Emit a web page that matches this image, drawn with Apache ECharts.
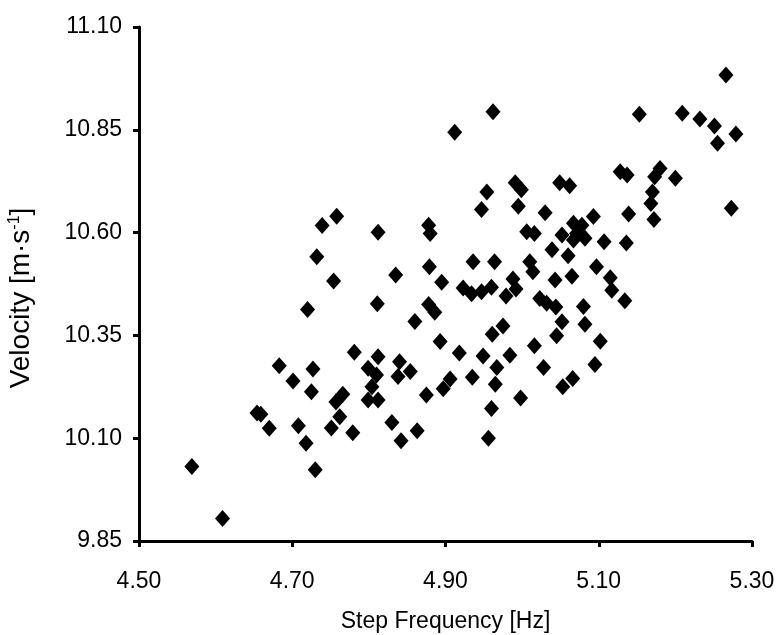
<!DOCTYPE html>
<html>
<head>
<meta charset="utf-8">
<script src="https://cdn.jsdelivr.net/npm/echarts@6/dist/echarts.min.js"></script>
<style>
html,body{margin:0;padding:0;background:#fff;}
#chart{width:780px;height:635px;}
</style>
</head>
<body>
<div id="chart"></div>
<script>
// Step frequency [Hz]
var stepFrequency = [
4.739,4.758,4.732,4.754,4.720,4.683,4.727,4.701,4.725,4.757,4.766,4.751,4.762,
4.654,4.659,4.670,4.708,4.718,4.569,4.730,4.609,
4.962,4.912,4.954,4.991,4.999,4.947,4.995,5.030,4.812,4.878,4.880,5.006,5.016,
4.835,4.879,4.936,4.964,4.895,5.010,5.014,4.923,4.934,4.947,4.960,4.988,4.992,4.979,
4.811,4.878,4.886,4.860,4.975,4.961,4.893,4.918,4.949,4.984,5.016,4.967,5.028,
4.906,4.897,4.935,4.965,4.875,4.998,4.960,4.956,
4.781,4.812,4.799,4.810,4.804,4.799,4.812,4.840,4.854,4.838,4.779,4.830,4.863,4.842,
5.067,5.052,5.067,5.039,5.060,5.043,5.065,5.023,5.032,5.044,5.080,5.052,5.045,5.082,
5.102,5.095,5.066,5.053,5.115,5.117,5.134,
5.266,5.153,5.209,5.232,5.251,5.279,5.255,5.128,5.137,5.180,5.173,5.200,5.170,5.168,
5.172,5.139,5.273,5.049,5.062,5.093,5.078,5.071,5.082,5.107,5.136,5.097
];
// Velocity [m/s]
var velocity = [
10.617,10.640,10.541,10.482,10.413,10.276,10.268,10.239,10.213,10.188,10.207,10.125,10.152,
10.161,10.158,10.124,10.130,10.088,10.031,10.023,9.905,
10.894,10.844,10.699,10.721,10.704,10.656,10.664,10.648,10.601,10.618,10.598,10.602,10.598,
10.497,10.517,10.529,10.529,10.479,10.529,10.505,10.465,10.451,10.456,10.467,10.487,10.463,10.446,
10.427,10.425,10.406,10.384,10.373,10.353,10.335,10.307,10.300,10.302,10.325,10.272,10.272,
10.244,10.220,10.248,10.231,10.205,10.198,10.172,10.100,
10.309,10.298,10.270,10.254,10.225,10.193,10.193,10.286,10.262,10.250,10.113,10.138,10.118,10.094,
10.623,10.594,10.582,10.558,10.544,10.485,10.494,10.440,10.428,10.419,10.420,10.383,10.349,10.377,
10.336,10.279,10.245,10.225,10.490,10.460,10.434,
10.983,10.888,10.890,10.876,10.859,10.840,10.817,10.748,10.740,10.756,10.736,10.732,10.699,10.671,
10.632,10.645,10.659,10.721,10.714,10.639,10.618,10.598,10.586,10.578,10.575,10.517
];
var xTicks = ['4.50','4.70','4.90','5.10','5.30'];
var yTicks = ['9.85','10.10','10.35','10.60','10.85','11.10'];

var xMin = parseFloat(xTicks[0]), xStep = 0.2;
var yMin = parseFloat(yTicks[0]), yStep = 0.25;

var points = stepFrequency.map(function (x, i) {
  return [x - xMin, velocity[i] - yMin];
});

var font = '"Liberation Sans", Arial, sans-serif';
var chart = echarts.init(document.getElementById('chart'), null, {renderer: 'canvas'});
chart.setOption({
  backgroundColor: '#ffffff',
  animation: false,
  grid: {left: 139, right: 28, top: 27, bottom: 94, containLabel: false, outerBoundsMode: 'none'},
  xAxis: {
    type: 'value',
    min: 0, max: xStep * (xTicks.length - 1), interval: xStep,
    name: 'Step Frequency [Hz]',
    nameLocation: 'middle',
    nameGap: 69,
    nameTextStyle: {color: '#000', fontFamily: font, fontSize: 23},
    axisLine: {show: true, lineStyle: {color: '#000', width: 3}},
    axisTick: {show: true, inside: false, length: 6, lineStyle: {color: '#000', width: 3}},
    axisLabel: {
      color: '#000', fontFamily: font, fontSize: 23, margin: 29,
      formatter: function (v) { return xTicks[Math.round(v / xStep)] || ''; }
    },
    splitLine: {show: false}
  },
  yAxis: {
    type: 'value',
    min: 0, max: yStep * (yTicks.length - 1), interval: yStep,
    name: 'Velocity [m·s{sup|-1}]',
    nameLocation: 'middle',
    nameGap: 103,
    nameRotate: 90,
    nameTextStyle: {
      color: '#000', fontFamily: font, fontSize: 28,
      padding: [0, 28, 0, 0],
      rich: {sup: {fontSize: 16, fontFamily: font, color: '#000', verticalAlign: 'top', padding: [0,0,13,0]}}
    },
    axisLine: {show: true, lineStyle: {color: '#000', width: 3}},
    axisTick: {show: true, inside: false, length: 6, lineStyle: {color: '#000', width: 3}},
    axisLabel: {
      color: '#000', fontFamily: font, fontSize: 23, margin: 17,
      formatter: function (v) { return yTicks[Math.round(v / yStep)] || ''; }
    },
    splitLine: {show: false}
  },
  series: [{
    type: 'scatter',
    data: points,
    symbol: 'diamond',
    symbolSize: [15, 17],
    itemStyle: {color: '#000', opacity: 1},
    clip: false
  }]
});
</script>
</body>
</html>
